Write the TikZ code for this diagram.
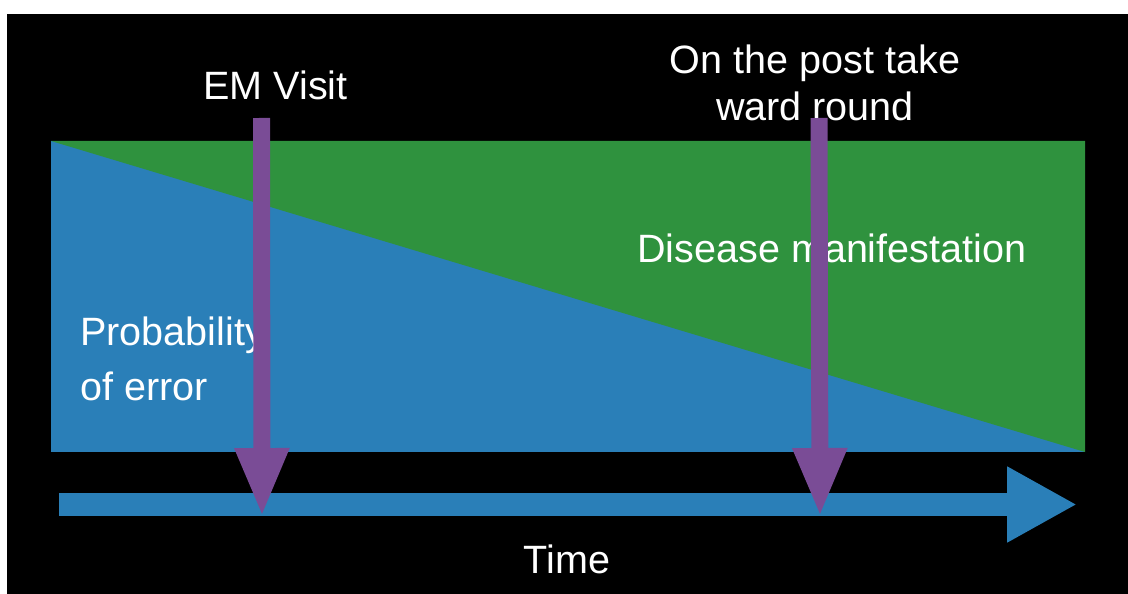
\documentclass[tikz,border=0pt]{standalone}
\usepackage{fontspec}
\setmainfont{Liberation Sans}
\usetikzlibrary{arrows.meta}
\definecolor{DiseaseGreen}{RGB}{47,146,62}
\definecolor{ErrorBlue}{RGB}{42,127,184}
\definecolor{VisitPurple}{RGB}{122,76,150}
\tikzset{
  labeltext/.style={text=white, inner sep=0pt, font=\fontsize{22.5pt}{#1}\selectfont},
  labeltext/.default=27pt,
  timearr/.style={-{Triangle[length=1.4cm, width=1.42cm]}, line width=0.46cm, ErrorBlue},
  visitarr/.style={-{Triangle[length=1.38cm, width=1.0cm]}, line width=0.34cm, VisitPurple},
}
\begin{document}
\begin{tikzpicture}[x=0.02cm, y=-0.02cm]
  \useasboundingbox (0,0) rectangle (1128,594);
  \fill[black] (7,14) rectangle (1128,594);
  \fill[ErrorBlue] (51,141) rectangle (1085,452);
  \fill[DiseaseGreen] (51,141) -- (1085,141) -- (1085,452) -- cycle;
  \coordinate (timestart) at (59,504.5);
  \coordinate (timeend) at (1077,504.5);
  \draw[timearr] (timestart) -- (timeend);
  \node[labeltext, anchor=base] (emvisit) at (275.5,100) {EM Visit};
  \node[labeltext, anchor=base, align=center] (wardround) at (815,121) {On the post take\\ward round};
  \node[labeltext, anchor=base west] (disease) at (637,263) {Disease manifestation};
  \node[labeltext=31pt, anchor=base west, align=left] (error) at (80,400) {Probability\\of error};
  \node[labeltext, anchor=base] (time) at (567,573) {Time};
  \coordinate (emtop) at (261.5,118);
  \coordinate (emtip) at (262,517);
  \coordinate (wardtop) at (819,118);
  \coordinate (wardtip) at (820,517);
  \draw[visitarr] (emtop) -- (emtip);
  \draw[visitarr] (wardtop) -- (wardtip);
\end{tikzpicture}
\end{document}
